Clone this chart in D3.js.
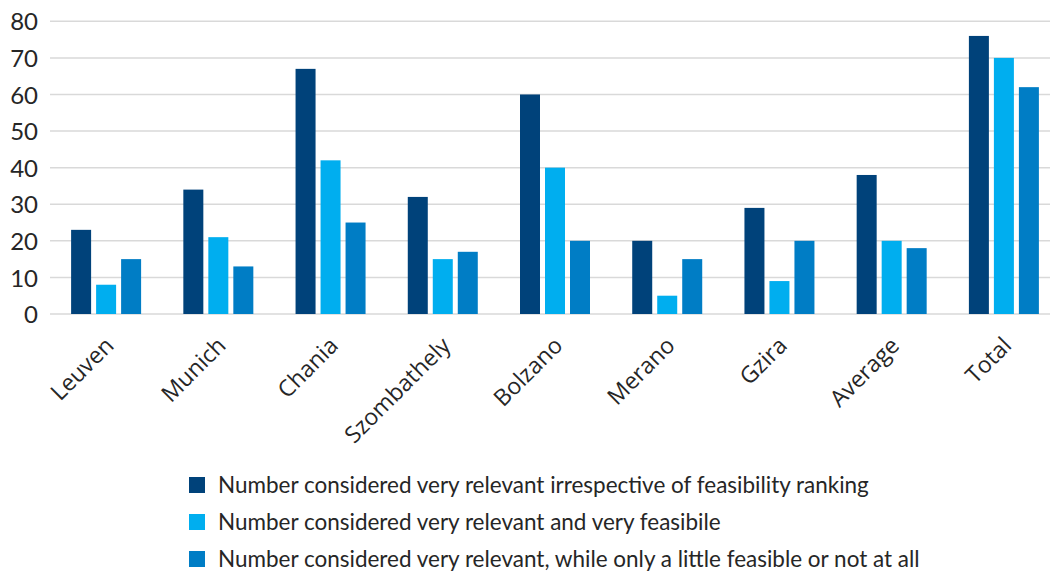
<!DOCTYPE html>
<html>
<head>
<meta charset="utf-8">
<script src="https://cdn.jsdelivr.net/npm/d3@7/dist/d3.min.js"></script>
<style>
  html, body { margin: 0; padding: 0; background: #fff; }
  svg { display: block; }
</style>
</head>
<body>
<svg id="chart" width="1050" height="571"></svg>
<script>
const categories = ["Leuven", "Munich", "Chania", "Szombathely", "Bolzano", "Merano", "Gzira", "Average", "Total"];
const seriesNames = [
  "Number considered very relevant irrespective of feasibility ranking",
  "Number considered very relevant and very feasibile",
  "Number considered very relevant, while only a little feasible or not at all"
];
const veryRelevant = [23, 34, 67, 32, 60, 20, 29, 38, 76];
const relevantFeasible = [8, 21, 42, 15, 40, 5, 9, 20, 70];
const relevantNotFeasible = [15, 13, 25, 17, 20, 15, 20, 18, 62];
const yTicks = [0, 10, 20, 30, 40, 50, 60, 70, 80];
const colors = ["#00427a", "#00aeef", "#007dc5"];

const series = [veryRelevant, relevantFeasible, relevantNotFeasible];

const svg = d3.select("#chart");
const plotBottom = 314;

const x = d3.scaleBand().domain(categories).range([50, 1060]).padding(0);
const inner = d3.scaleBand().domain([0, 1, 2]).range([-35, 35]).paddingInner(0.2).paddingOuter(0);
const y = d3.scaleLinear().domain([0, 80]).range([plotBottom, 21.3]);

// gridlines
svg.append("g")
  .selectAll("line")
  .data(yTicks)
  .join("line")
  .attr("x1", 50).attr("x2", 1050)
  .attr("y1", d => y(d)).attr("y2", d => y(d))
  .attr("stroke", "#d9d9d9")
  .attr("stroke-width", 1.5);

// y axis labels
const yAxis = d3.axisLeft(y).tickValues(yTicks).tickSize(0).tickPadding(0);
const gy = svg.append("g").attr("transform", "translate(38,0)").call(yAxis);
gy.select(".domain").remove();
gy.selectAll("text")
  .attr("font-family", "Lato, sans-serif")
  .attr("font-size", 24)
  .attr("fill", "#262626")
  .attr("dy", "0.36em");

// bars
const groups = svg.append("g")
  .selectAll("g")
  .data(categories)
  .join("g")
  .attr("transform", d => `translate(${x(d) + x.bandwidth() / 2},0)`);

groups.selectAll("rect")
  .data((d, i) => series.map((s, k) => ({ k, v: s[i] })))
  .join("rect")
  .attr("x", d => inner(d.k))
  .attr("width", inner.bandwidth())
  .attr("y", d => y(d.v))
  .attr("height", d => y(0) - y(d.v))
  .attr("fill", d => colors[d.k]);

// x labels
const xAxis = d3.axisBottom(x).tickSize(0).tickPadding(0);
const gx = svg.append("g").attr("transform", `translate(0,${plotBottom})`).call(xAxis);
gx.select(".domain").remove();
gx.selectAll("text")
  .attr("font-family", "'Open Sans', sans-serif")
  .attr("font-size", 23)
  .attr("fill", "#262626")
  .attr("text-anchor", "end")
  .attr("dy", null)
  .attr("y", 0)
  .attr("transform", "translate(9,33) rotate(-45)");

// legend
const legend = svg.append("g")
  .selectAll("g")
  .data(seriesNames)
  .join("g")
  .attr("transform", (d, i) => `translate(189,${485 + i * 37})`);

legend.append("rect")
  .attr("x", 0).attr("y", -8)
  .attr("width", 16).attr("height", 16)
  .attr("fill", (d, i) => colors[i]);

const lt = legend.append("text")
  .attr("x", 29).attr("y", 0)
  .attr("dy", "0.35em")
  .attr("font-family", "Lato, sans-serif")
  .attr("font-size", 20)
  .attr("fill", "#262626")
  .text(d => d);

// fit legend font so the longest line matches the reference width
const longest = lt.filter((d, i) => i === 2).node();
const w = longest.getComputedTextLength();
const fs = 20 * 702 / w;
lt.attr("font-size", fs);
</script>
</body>
</html>
